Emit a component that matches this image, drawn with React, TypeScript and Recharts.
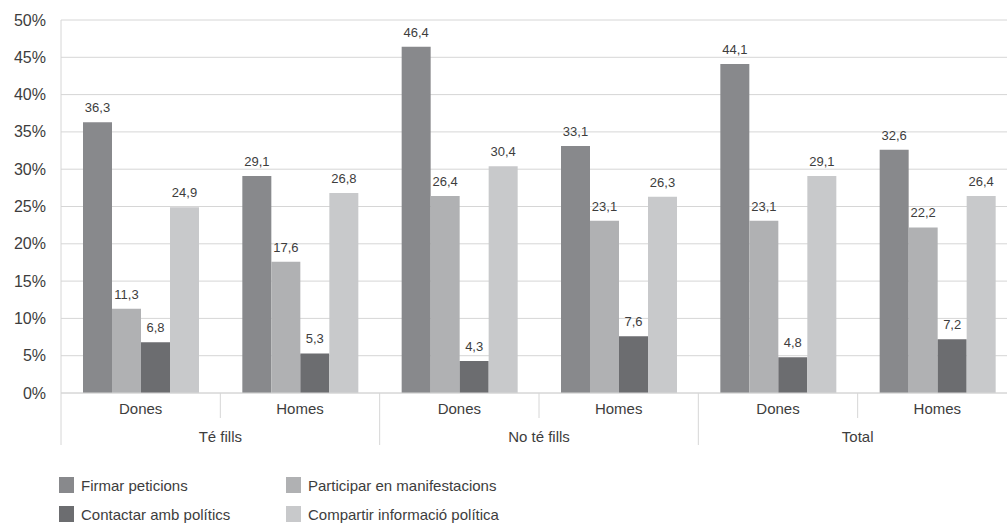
import { Bar, BarChart, CartesianGrid, LabelList, XAxis, YAxis } from "recharts";

const CATEGORIES = ["Dones", "Homes", "Dones", "Homes", "Dones", "Homes"];
const GROUPS = ["Té fills", "No té fills", "Total"];

const FIRMAR = [36.3, 29.1, 46.4, 33.1, 44.1, 32.6];
const PARTICIPAR = [11.3, 17.6, 26.4, 23.1, 23.1, 22.2];
const CONTACTAR = [6.8, 5.3, 4.3, 7.6, 4.8, 7.2];
const COMPARTIR = [24.9, 26.8, 30.4, 26.3, 29.1, 26.4];

const Y_TICKS = [0, 5, 10, 15, 20, 25, 30, 35, 40, 45, 50];

const SERIES = [
  { key: "firmar", name: "Firmar peticions", color: "#88898c" },
  { key: "participar", name: "Participar en manifestacions", color: "#b0b1b3" },
  { key: "contactar", name: "Contactar amb polítics", color: "#6c6d70" },
  { key: "compartir", name: "Compartir informació política", color: "#c8c9cb" },
];

const data = CATEGORIES.map((cat, i) => ({
  cat,
  idx: i,
  firmar: FIRMAR[i],
  participar: PARTICIPAR[i],
  contactar: CONTACTAR[i],
  compartir: COMPARTIR[i],
}));

const CHART_W = 1017;
const CHART_H = 523;
const PLOT_LEFT = 61;
const BAND = (CHART_W - PLOT_LEFT) / CATEGORIES.length;
const FONT = "'Liberation Sans', Arial, sans-serif";
const TEXT = "#3d3d3d";
const LINE = "#d6d6d6";

const fmt = (v: number) => v.toFixed(1).replace(".", ",");

function YTick({ y, payload }: any) {
  return (
    <text x={46} y={y} dy={5.5} textAnchor="end" fontSize={16} fill={TEXT} fontFamily={FONT}>
      {`${payload.value}%`}
    </text>
  );
}

function XTick({ x, y, payload, index }: any) {
  const left = x - BAND / 2;
  const top = y - 8;
  const isGroupStart = index % 2 === 0;
  return (
    <g>
      <line x1={left} x2={left} y1={top} y2={isGroupStart ? top + 52 : top + 25} stroke={LINE} />
      <text x={x} y={top + 16} dy={5} textAnchor="middle" fontSize={15} fill={TEXT} fontFamily={FONT}>
        {payload.value}
      </text>
      {isGroupStart && (
        <text x={x + BAND / 2} y={top + 44} dy={5} textAnchor="middle" fontSize={15} fill={TEXT} fontFamily={FONT}>
          {GROUPS[index / 2]}
        </text>
      )}
    </g>
  );
}

export default function App() {
  return (
    <div style={{ position: "absolute", left: 0, top: 0, width: 1007, height: 523, overflow: "hidden", background: "#fff" }}>
      <BarChart
        width={CHART_W}
        height={CHART_H}
        data={data}
        margin={{ top: 20, right: 0, bottom: 70, left: 0 }}
        barSize={29}
        barGap={0}
      >
        <CartesianGrid vertical={false} stroke={LINE} />
        <XAxis
          dataKey="cat"
          height={60}
          interval={0}
          tickLine={false}
          axisLine={{ stroke: LINE }}
          tick={<XTick />}
        />
        <YAxis
          width={PLOT_LEFT}
          domain={[0, 50]}
          ticks={Y_TICKS}
          tickLine={false}
          axisLine={{ stroke: LINE }}
          tick={<YTick />}
        />
        {SERIES.map((s) => (
          <Bar key={s.key} dataKey={s.key} name={s.name} fill={s.color} isAnimationActive={false}>
            <LabelList
              dataKey={s.key}
              position="top"
              offset={10}
              formatter={(v: any) => fmt(Number(v))}
              style={{ fontSize: 13, fill: TEXT, fontFamily: FONT }}
            />
          </Bar>
        ))}
      </BarChart>
      <div
        style={{
          position: "absolute",
          left: 59,
          top: 477,
          display: "grid",
          gridTemplateColumns: "227px 260px",
          rowGap: 13,
          fontFamily: FONT,
          fontSize: 15,
          color: TEXT,
        }}
      >
        {[SERIES[0], SERIES[1], SERIES[2], SERIES[3]].map((s) => (
          <div key={s.key} style={{ display: "flex", alignItems: "center", height: 16 }}>
            <span style={{ width: 15, height: 16, background: s.color, display: "inline-block", marginRight: 7 }} />
            <span>{s.name}</span>
          </div>
        ))}
      </div>
    </div>
  );
}
